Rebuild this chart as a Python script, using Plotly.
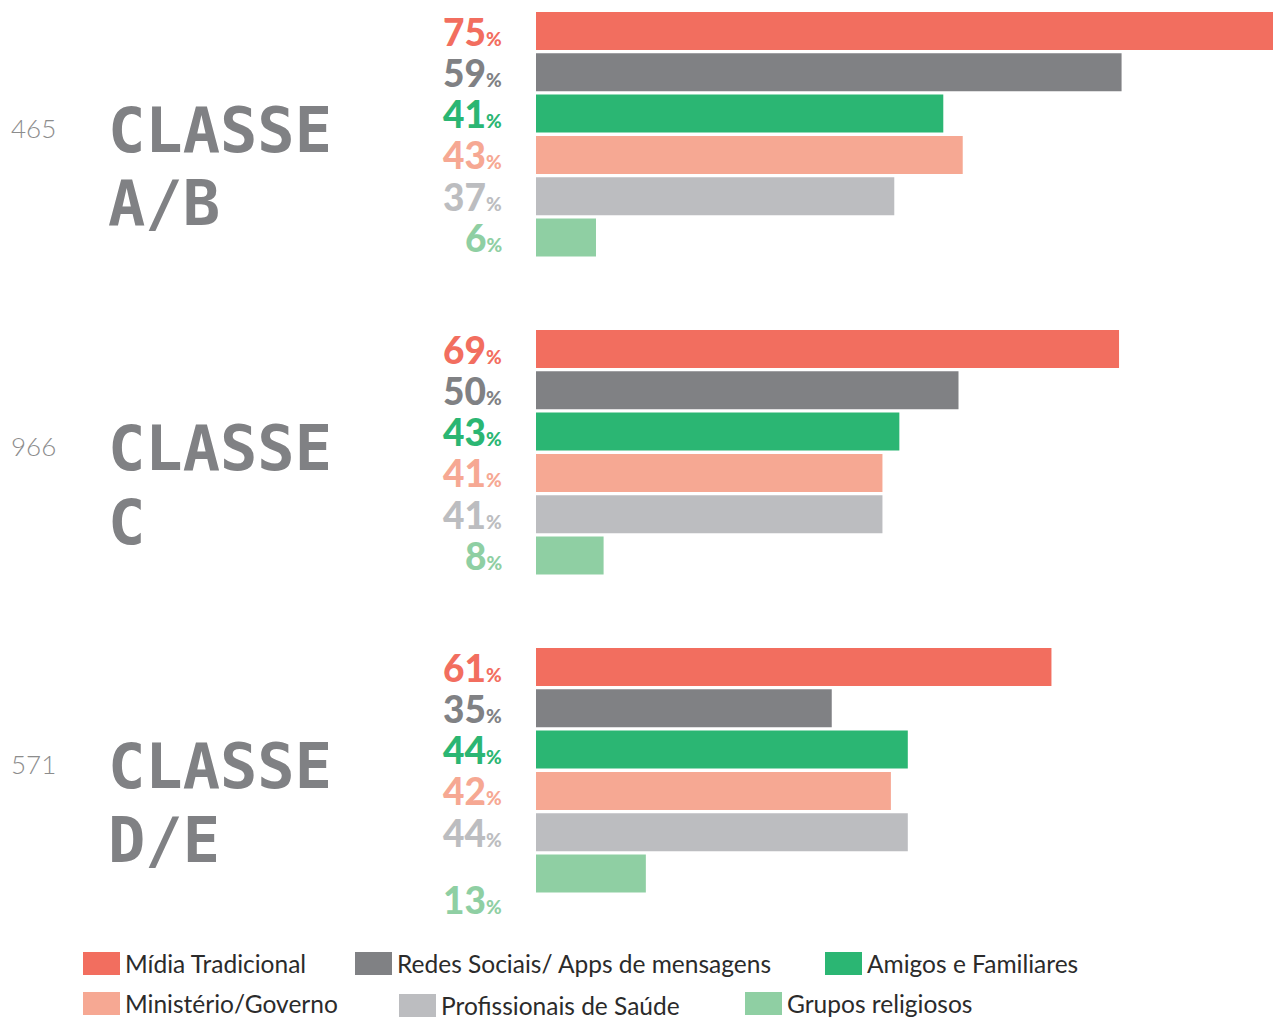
import plotly.graph_objects as go

# ---------------- data ----------------
categories = ["Mídia Tradicional", "Redes Sociais/ Apps de mensagens", "Amigos e Familiares",
              "Ministério/Governo", "Profissionais de Saúde", "Grupos religiosos"]
group_title = ["CLASSE", "CLASSE", "CLASSE"]
group_sub = ["A/B", "C", "D/E"]
group_n = ["465", "966", "571"]

# bar lengths as drawn in the picture (percentage scale)
bars_ab = [88.0, 69.3, 48.2, 50.5, 42.4, 7.1]
bars_c = [69, 50, 43, 41, 41, 8]
bars_de = [61, 35, 44, 42, 44, 13]

# printed labels
labels_ab = [75, 59, 41, 43, 37, 6]
labels_c = [69, 50, 43, 41, 41, 8]
labels_de = [61, 35, 44, 42, 44, 13]

colors = ["#F26E5F", "#808184", "#2BB673", "#F6A893", "#BCBDC0", "#8FCFA3"]

# ---------------- layout helpers (page pixel coordinates) ----------------
W, H = 1273, 1017
PLOT_LEFT = 536
PLOT_BOTTOM = 940
PX_PER_PCT = 8.45
FIRST_CENTER = 31
SLOT = 41.3
GROUP_STEP = 318
BAR_H = 38


def px(x):
    return x / W


def py(y):
    return 1 - y / H


def ycenter(g, i):
    return FIRST_CENTER + g * GROUP_STEP + i * SLOT


bars = [bars_ab, bars_c, bars_de]
labels = [labels_ab, labels_c, labels_de]

fig = go.Figure()
for i, cat in enumerate(categories):
    fig.add_trace(go.Bar(
        orientation="h",
        x=[bars[g][i] for g in range(3)],
        y=[ycenter(g, i) for g in range(3)],
        width=BAR_H,
        marker=dict(color=colors[i], line=dict(width=0)),
        name=cat,
        showlegend=False,
        hoverinfo="skip",
    ))

annotations = []
shapes = []
label_shift = {(2, 5): -26}
for g in range(3):
    for i in range(6):
        annotations.append(dict(
            xref="paper", yref="y", x=px(504), y=ycenter(g, i),
            xanchor="right", yanchor="middle",
            text=f"{labels[g][i]}<span style='font-size:19px'>%</span>",
            showarrow=False,
            yshift=label_shift.get((g, i), 0),
            font=dict(family="Lato", size=37, color=colors[i], weight=900),
        ))
    base = 130 + g * GROUP_STEP
    annotations.append(dict(
        xref="paper", yref="paper", x=px(106), y=py(base),
        xanchor="left", yanchor="middle", showarrow=False,
        text=f"<b>{group_title[g]}</b>",
        font=dict(family="DejaVu Sans Mono", size=62, color="#808184"),
    ))
    annotations.append(dict(
        xref="paper", yref="paper", x=px(106), y=py(base + 74),
        xanchor="left", yanchor="middle", showarrow=False,
        text=f"<b>{group_sub[g]}</b>",
        font=dict(family="DejaVu Sans Mono", size=62, color="#808184"),
    ))
    annotations.append(dict(
        xref="paper", yref="paper", x=px(9), y=py(128 + g * GROUP_STEP),
        xanchor="left", yanchor="middle", showarrow=False,
        text=group_n[g],
        font=dict(family="Lato", size=26, color="#8C8C8C", weight=300),
    ))

# custom legend (two rows)
legend_pos = [(83, 952), (355, 952), (825, 952), (83, 992), (399, 994), (745, 992)]
for i, cat in enumerate(categories):
    x0, y0 = legend_pos[i]
    shapes.append(dict(type="rect", xref="paper", yref="paper",
                       x0=px(x0), x1=px(x0 + 37), y0=py(y0), y1=py(y0 + 23),
                       fillcolor=colors[i], line=dict(width=0)))
    annotations.append(dict(
        xref="paper", yref="paper", x=px(x0 + 40), y=py(y0 + 11),
        xanchor="left", yanchor="middle", showarrow=False,
        text=cat,
        font=dict(family="Lato", size=24.5, color="#2B2B2B"),
    ))

fig.update_layout(
    width=W, height=H, autosize=False,
    margin=dict(l=0, r=0, t=0, b=0, pad=0),
    paper_bgcolor="white", plot_bgcolor="white",
    barmode="overlay",
    xaxis=dict(domain=[PLOT_LEFT / W, 1],
               range=[0, (W - PLOT_LEFT) / PX_PER_PCT],
               visible=False, fixedrange=True),
    yaxis=dict(domain=[1 - PLOT_BOTTOM / H, 1], range=[PLOT_BOTTOM, 0],
               visible=False, fixedrange=True),
    annotations=annotations,
    shapes=shapes,
)

fig.write_html("out.html", config={"displayModeBar": False},
               post_script="document.body.style.margin='0';")
